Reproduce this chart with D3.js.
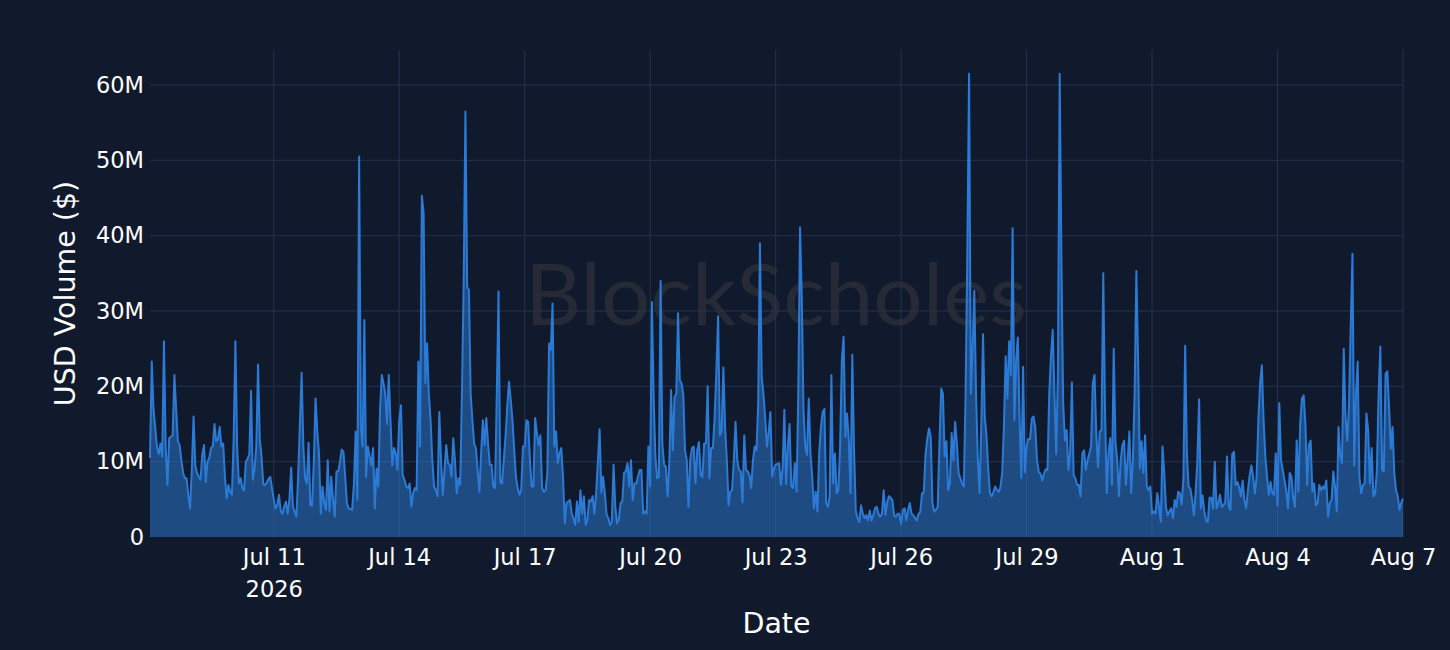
<!DOCTYPE html>
<html>
<head>
<meta charset="utf-8">
<script src="https://cdn.jsdelivr.net/npm/d3@7"></script>
<style>
  html, body { margin: 0; padding: 0; background: #111a2d; }
  svg { display: block; }
</style>
</head>
<body>
<svg id="chart" width="1450" height="650"></svg>
<script>
// ---- DATA (hourly USD volume, millions of $), first point 2026-07-08 01:00 UTC ----
const startUtc = Date.UTC(2026, 6, 8, 1);
const volWeek1 = [
  10.5, 23.3, 17, 14.5, 12, 11, 12.4, 10.7, 26, 12, 6.9, 13.1, 13.3, 13.5, 21.5, 17, 12.7, 12.2, 10.2, 8.5, 7.8, 7.8, 5.5, 3.8,
  9, 16, 9.5, 8.5, 8, 7.6, 11, 12.2, 7.3, 10, 10.5, 11.8, 12, 15, 12.7, 13, 14.6, 12, 12.4, 8, 5.1, 6.9, 6, 5.6,
  13, 26, 12, 7.1, 7.8, 6.5, 6.2, 10, 10.4, 11, 19.4, 7.6, 9, 12, 22.9, 13, 10.7, 7, 6.9, 7.2, 7.7, 8, 6.5, 5,
  3.8, 4.2, 5.6, 3.5, 3.1, 4, 4.7, 3.1, 5, 9.2, 4, 3.4, 2.7, 8, 15, 21.8, 12, 7.8, 7.1, 12.5, 4.2, 4.2, 10, 18.4,
  14, 11.1, 3.1, 6.7, 4.5, 3.6, 10.2, 3.4, 8, 5, 2.7, 8.7, 8.7, 10, 11.6, 11.3, 8, 4.5, 3.8, 3.7, 3.6, 7, 14, 4.9,
  50.5, 14.6, 12, 28.8, 8, 12, 10.7, 9.5, 11.8, 3.8, 9.1, 6.7, 16.9, 21.5, 20.4, 19, 15, 21.5, 15.5, 9.5, 11.8, 11.1, 8.9, 15.5,
  17.5, 8.2, 7.6, 6.7, 6.5, 7.1, 4, 5.8, 6.5, 6.2, 23.3, 12, 45.3, 43, 20.4, 25.7, 19, 15.5, 10.2, 6.7, 6.2, 5.4, 16.6, 10.2
];
const volWeek2 = [
  5.6, 8.9, 12.2, 9.8, 9.6, 8, 13.1, 10.2, 5.8, 7.8, 6.9, 19, 34, 56.5, 33.2, 32.8, 19, 15.5, 12.4, 11.8, 8.9, 6, 11.1, 15.5,
  12.2, 15.8, 12.4, 9.6, 9.6, 6.7, 6.5, 19, 32.6, 7.3, 7.1, 10.2, 13.3, 17.3, 20.6, 18.2, 15.5, 11.5, 8, 6.5, 5.6, 6.2, 12, 12,
  15.5, 15.3, 10.2, 6.7, 6.7, 15.8, 13.8, 12.2, 13.5, 6.5, 6, 6.2, 8.5, 25.7, 24.8, 31, 12, 14, 9.8, 11.1, 11.8, 8, 1.8, 4.5,
  4.7, 4.9, 3.1, 2.5, 1.6, 4.7, 2, 6.2, 3.1, 5.4, 1.6, 2.3, 4.9, 4.7, 5.4, 3.1, 5.8, 10, 14.3, 5.9, 8, 5.8, 3, 2.5,
  1.6, 2, 9.6, 4, 1.8, 2.3, 4.5, 4.7, 8.5, 8.7, 9.8, 6.7, 10.2, 4.9, 7.1, 7.1, 8, 8.9, 8.9, 3.1, 3.4, 3.1, 12, 6.7,
  31.2, 18.6, 10.7, 7.8, 8, 34, 12.4, 9.6, 9.3, 5.4, 9.8, 19.5, 11.5, 18.6, 19, 29.7, 20.8, 20.4, 19, 11.5, 10.2, 4, 10.2, 11.8,
  12, 7.1, 11.5, 12.6, 8.2, 8, 12.4, 12.4, 20, 7.8, 11.8, 11.8, 16, 22, 29.3, 13.5, 14, 22.5, 14.6, 10.2, 4.2, 6, 6.2, 10.2
];
const volWeek3 = [
  15.3, 10.2, 8.9, 8.7, 4.6, 13.5, 8.9, 8.7, 8.2, 6.5, 10.2, 12, 11.5, 17.7, 39, 21.3, 19, 15.8, 12, 13.8, 16.6, 8, 9.1, 9.6,
  9.7, 9.8, 6.9, 9, 16.9, 7, 12, 15, 6.7, 6.5, 9.8, 6, 19, 41.1, 31.9, 16.9, 12, 10.9, 18.4, 11.1, 8, 3.8, 6, 3.4,
  11.1, 14.6, 16.6, 17, 4.5, 4, 5.4, 21.5, 7.1, 11.1, 5.8, 6.2, 12, 23.5, 26.6, 13.3, 16.4, 12.8, 5.8, 24.2, 11.5, 3.5, 2.5, 2,
  4.2, 3.1, 2.5, 2.9, 2.2, 3.5, 2.2, 2.9, 3.8, 4, 3.1, 2.7, 3.1, 6.2, 2.9, 4.6, 5.4, 5.2, 4.9, 2.9, 2.7, 3.1, 3.1, 1.7,
  3.6, 3.8, 2.2, 3.6, 4.5, 3.1, 2.9, 2.5, 2.2, 3.1, 3.3, 5.8, 5.8, 10.9, 13, 14.4, 13.3, 4.5, 3.4, 3.6, 4, 12.4, 19.7, 19,
  10.7, 12.7, 6.2, 7.1, 13.8, 10.2, 15.3, 12.4, 8.5, 7.8, 7.1, 6.7, 19, 37.7, 61.5, 19, 24.8, 32.7, 19, 10.4, 5.8, 14.6, 26.9, 16,
  13.5, 9, 5.8, 5.4, 6, 6.7, 6.2, 6, 6.6, 8.5, 14.6, 24, 18.4, 26, 21.5, 41, 15.5, 23.5, 26.5, 15.5, 7.8, 22.6, 8.6, 12
];
const volWeek4 = [
  13, 13, 15.7, 16, 14.5, 10.2, 8.6, 8.4, 7.5, 8.4, 9, 8.9, 19, 24, 27.5, 19, 11, 22, 61.5, 36.5, 17.7, 12.8, 14.2, 8.9,
  11.1, 20.5, 8.2, 7.8, 6.9, 6.9, 5.4, 11.1, 11.5, 8.9, 10.2, 11.1, 12, 20.4, 21.5, 13.8, 9.3, 14, 14.2, 35, 17, 5.8, 11.1, 13.1,
  6.9, 25, 12.6, 10.2, 5.4, 10.2, 12.2, 12.8, 6.9, 10.2, 14, 5.8, 10.2, 19, 35.3, 23.5, 9.1, 12.7, 8.5, 13.5, 6.7, 6.2, 6.7, 3.1,
  3.4, 3.1, 5.8, 4, 2, 12, 8.5, 3.9, 2.9, 3.4, 3.8, 2.5, 4.9, 4, 6, 5.8, 4.3, 8, 25.4, 11, 6.7, 6.4, 4.9, 2.9,
  5.8, 10.2, 18.3, 3.8, 5.5, 3.4, 2.2, 2, 5.2, 5.2, 3.8, 10, 3.8, 4.5, 5.6, 4, 4.2, 4.6, 10.7, 4, 3.6, 11, 11.3, 6.9,
  7.3, 6.6, 5.4, 7.5, 4.9, 3.8, 6.2, 8.2, 9.5, 8, 5.8, 8, 15.5, 20.4, 22.8, 15.5, 10.7, 8, 5.6, 7.3, 5.8, 5.6, 11.1, 4.2,
  17.8, 10.2, 8.9, 7.5, 6.2, 3.8, 8.5, 8, 5.1, 4, 12.8, 6, 15, 18.4, 18.8, 15, 6.9, 12.2, 12.8, 6, 7.1, 4.2, 4.5, 6.9
];
const volTail = [
  6.2, 6.7, 6.4, 7.5, 2.7, 4.5, 4.9, 8.7, 6.7, 3.4, 14.6, 10.7, 9.8, 25, 16, 12.8, 17.3, 28, 37.6, 9.5, 19, 23.3, 8, 5.8,
  6.9, 7.1, 16.4, 14.2, 7.1, 11.8, 5.4, 5.8, 8.7, 19, 25.3, 8.9, 8.7, 21.7, 22, 17.3, 11.7, 14.6, 8.5, 6.2, 5.4, 3.6, 4.5, 5.1
];
const yTicksM = [0, 10, 20, 30, 40, 50, 60];
const xTickDates = ["2026-07-11", "2026-07-14", "2026-07-17", "2026-07-20", "2026-07-23",
                    "2026-07-26", "2026-07-29", "2026-08-01", "2026-08-04", "2026-08-07"];
const yTitle = "USD Volume ($)";
const xTitle = "Date";
const watermark = "BlockScholes";

// ---- BUILD ----
const volumesM = [].concat(volWeek1, volWeek2, volWeek3, volWeek4, volTail);
const data = volumesM.map((v, i) => ({ t: new Date(startUtc + i * 3600e3), v: v * 1e6 }));

const W = 1450, H = 650;
const plot = { left: 150, right: 1403, top: 50, bottom: 537 };
const COLORS = { bg: "#111a2d", grid: "#253250", line: "#2b7bd6", text: "#ffffff", wm: "#252a36" };

const svg = d3.select("#chart");
svg.append("rect").attr("width", W).attr("height", H).attr("fill", COLORS.bg);

const x = d3.scaleUtc().domain(d3.extent(data, d => d.t)).range([plot.left, plot.right]);
const y = d3.scaleLinear().domain([0, 64.65e6]).range([plot.bottom, plot.top]);

// watermark
svg.append("text")
  .attr("x", 525).attr("y", 325)
  .attr("textLength", 502).attr("lengthAdjust", "spacingAndGlyphs")
  .attr("font-family", "Lato, 'Open Sans', sans-serif")
  .attr("font-size", 86).attr("font-weight", 400)
  .attr("fill", COLORS.wm)
  .text(watermark);

// gridlines
const tickDates = xTickDates.map(s => new Date(s + "T00:00:00Z"));
svg.append("g").selectAll("line").data(tickDates).join("line")
  .attr("x1", d => x(d)).attr("x2", d => x(d))
  .attr("y1", plot.top).attr("y2", plot.bottom)
  .attr("stroke", COLORS.grid).attr("stroke-width", 1);
svg.append("g").selectAll("line").data(yTicksM.filter(d => d > 0)).join("line")
  .attr("x1", plot.left).attr("x2", plot.right)
  .attr("y1", d => y(d * 1e6)).attr("y2", d => y(d * 1e6))
  .attr("stroke", COLORS.grid).attr("stroke-width", 1);

// area + line
const area = d3.area().x(d => x(d.t)).y0(y(0)).y1(d => y(d.v));
const line = d3.line().x(d => x(d.t)).y(d => y(d.v));
svg.append("path").datum(data).attr("d", area)
  .attr("fill", COLORS.line).attr("fill-opacity", 0.5);
svg.append("path").datum(data).attr("d", line)
  .attr("fill", "none").attr("stroke", COLORS.line).attr("stroke-width", 2)
  .attr("stroke-linejoin", "round");

// y axis
const yAxis = d3.axisLeft(y).tickValues(yTicksM.map(d => d * 1e6))
  .tickFormat(d => d === 0 ? "0" : (d / 1e6) + "M").tickSize(0).tickPadding(6);
const gy = svg.append("g").attr("transform", `translate(${plot.left},0)`).call(yAxis);
gy.select(".domain").remove();
gy.selectAll("text").attr("fill", COLORS.text)
  .attr("font-family", "'DejaVu Sans', Verdana, sans-serif").attr("font-size", 22.5);

// x axis
const fmt = d3.utcFormat("%b %-d");
const xAxis = d3.axisBottom(x).tickValues(tickDates).tickFormat(fmt).tickSize(0).tickPadding(12);
const gx = svg.append("g").attr("transform", `translate(0,${plot.bottom})`).call(xAxis);
gx.select(".domain").remove();
gx.selectAll("text").attr("fill", COLORS.text)
  .attr("font-family", "'DejaVu Sans', Verdana, sans-serif").attr("font-size", 22.5);
gx.selectAll(".tick").filter((d, i) => i === 0).append("text")
  .attr("fill", COLORS.text).attr("y", 60).attr("text-anchor", "middle")
  .attr("font-family", "'DejaVu Sans', Verdana, sans-serif").attr("font-size", 22.5)
  .text(d3.utcFormat("%Y"));

// titles
svg.append("text")
  .attr("transform", `translate(75,${(plot.top + plot.bottom) / 2}) rotate(-90)`)
  .attr("text-anchor", "middle")
  .attr("fill", COLORS.text)
  .attr("font-family", "'DejaVu Sans', Verdana, sans-serif").attr("font-size", 28.5)
  .text(yTitle);
svg.append("text")
  .attr("x", (plot.left + plot.right) / 2).attr("y", 633)
  .attr("text-anchor", "middle")
  .attr("fill", COLORS.text)
  .attr("font-family", "'DejaVu Sans', Verdana, sans-serif").attr("font-size", 28.5)
  .text(xTitle);
</script>
</body>
</html>
